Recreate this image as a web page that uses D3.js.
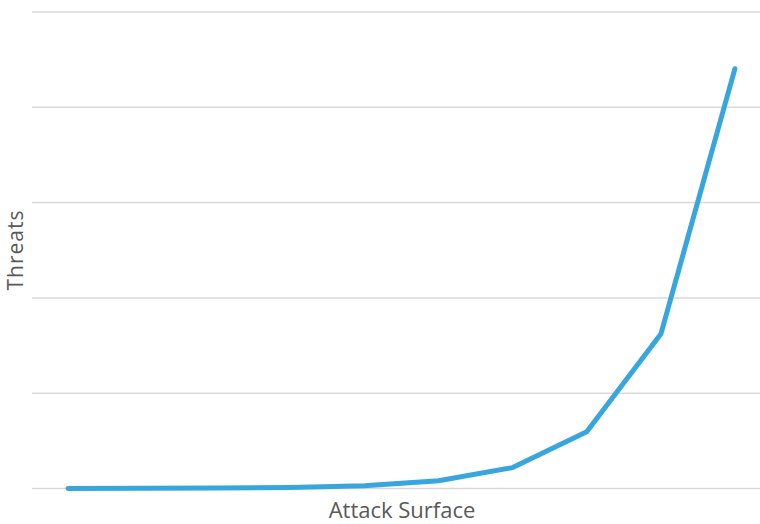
<!DOCTYPE html>
<html>
<head>
<meta charset="utf-8">
<script src="https://cdn.jsdelivr.net/npm/d3@7"></script>
<style>
  html, body { margin: 0; padding: 0; background: #fff; }
  svg { display: block; font-family: 'Open Sans', sans-serif; }
</style>
</head>
<body>
<svg id="chart" width="760" height="524"></svg>
<script>
// categories along the attack surface axis (unlabelled in the original)
const categories = [1, 2, 3, 4, 5, 6, 7, 8, 9, 10];
// threat values
const threats = [3, 7, 20, 55, 148, 403, 1097, 2981, 8103, 22026];
const yTicks = [0, 5000, 10000, 15000, 20000, 25000];

const W = 760, H = 524;
const svg = d3.select('#chart');

// plot area is wider than the picture: right edge gets cropped
const x = d3.scalePoint().domain(categories).range([31, 772]).padding(0.5);
const y = d3.scaleLinear().domain([0, 25000]).range([488.5, 12]);

// gridlines
svg.append('g')
  .selectAll('line')
  .data(yTicks)
  .join('line')
  .attr('x1', 32).attr('x2', W)
  .attr('y1', d => y(d)).attr('y2', d => y(d))
  .attr('stroke', '#d9d9d9')
  .attr('stroke-width', 1.5);

const line = d3.line()
  .x((d, i) => x(categories[i]))
  .y(d => y(d));

svg.append('path')
  .datum(threats)
  .attr('d', line)
  .attr('fill', 'none')
  .attr('stroke', '#37a6de')
  .attr('stroke-width', 5)
  .attr('stroke-linecap', 'round')
  .attr('stroke-linejoin', 'round');

// axis titles
svg.append('text')
  .attr('x', 402).attr('y', 518)
  .attr('text-anchor', 'middle')
  .attr('fill', '#595959')
  .attr('font-size', 22)
  .text('Attack Surface');

svg.append('text')
  .attr('transform', 'translate(23,250) rotate(-90)')
  .attr('text-anchor', 'middle')
  .attr('fill', '#595959')
  .attr('font-size', 21)
  .attr('letter-spacing', 1)
  .text('Threats');
</script>
</body>
</html>
